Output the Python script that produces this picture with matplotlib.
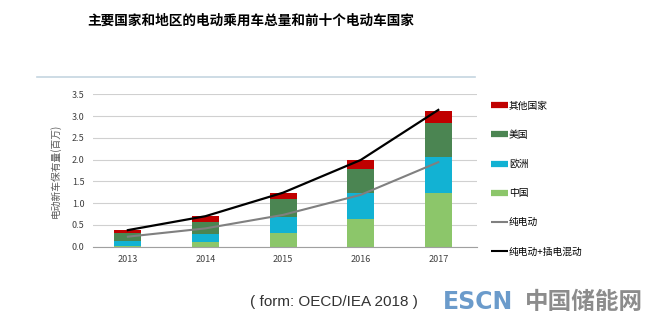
import matplotlib.pyplot as plt
from matplotlib.lines import Line2D
import numpy as np

plt.rcParams['font.family'] = ['Noto Sans CJK SC', 'DejaVu Sans']

years = ["2013", "2014", "2015", "2016", "2017"]
china = [0.02, 0.10, 0.31, 0.64, 1.23]
europe = [0.11, 0.19, 0.36, 0.59, 0.82]
usa = [0.18, 0.28, 0.42, 0.55, 0.78]
others = [0.07, 0.13, 0.15, 0.21, 0.29]
bev = [0.23, 0.42, 0.73, 1.19, 1.94]
bev_phev = [0.38, 0.70, 1.24, 1.99, 3.14]

c_china = "#8cc66a"
c_europe = "#12b2d3"
c_usa = "#4b8552"
c_others = "#c00000"

fig = plt.figure(figsize=(6.5, 3.25), dpi=100)
ax = fig.add_axes([0.143, 0.241, 0.591, 0.469])

x = np.arange(len(years))
w = 0.35
b = np.zeros(len(years))
for vals, col in [(china, c_china), (europe, c_europe), (usa, c_usa), (others, c_others)]:
    ax.bar(x, vals, w, bottom=b, color=col, zorder=2)
    b += np.array(vals)

ax.plot(x, bev, color="#808080", lw=1.5, zorder=3)
ax.plot(x, bev_phev, color="black", lw=1.6, zorder=3)

ax.set_xlim(-0.45, 4.5)
ax.set_ylim(0, 3.5)
ax.set_yticks(np.arange(0, 3.51, 0.5))
ax.set_yticklabels([f"{v:.1f}" for v in np.arange(0, 3.51, 0.5)])
ax.set_xticks(x)
ax.set_xticklabels(years)
ax.tick_params(length=0, labelsize=6.5, colors="#404040", pad=6)
ax.grid(axis="y", color="#d0d0d0", lw=0.8, zorder=0)
for s in ["top", "right", "left"]:
    ax.spines[s].set_visible(False)
ax.spines["bottom"].set_color("#a0a0a0")
ax.set_ylabel("电动新车保有量(百万)", fontsize=7, color="#595959", labelpad=8)

handles = [
    Line2D([], [], color=c_others, lw=4.5, solid_capstyle="butt"),
    Line2D([], [], color=c_usa, lw=4.5, solid_capstyle="butt"),
    Line2D([], [], color=c_europe, lw=4.5, solid_capstyle="butt"),
    Line2D([], [], color=c_china, lw=4.5, solid_capstyle="butt"),
    Line2D([], [], color="#808080", lw=1.5, solid_capstyle="butt"),
    Line2D([], [], color="black", lw=1.5, solid_capstyle="butt"),
]
labels = ["其他国家", "美国", "欧洲", "中国", "纯电动", "纯电动+插电混动"]
fig.legend(handles, labels, loc="upper left", bbox_to_anchor=(0.748, 0.705),
           frameon=False, fontsize=7, handlelength=1.7, handletextpad=0.15,
           labelspacing=1.97, borderpad=0)

fig.text(0.385, 0.937, "主要国家和地区的电动乘用车总量和前十个电动车国家",
         ha="center", va="center", fontsize=9.8, fontweight="bold")
fig.add_artist(Line2D([37 / 650, 475 / 650], [1 - 77 / 325] * 2, color="#c5d5e0", lw=1.2))

fig.text(0.513, 0.071, "( form: OECD/IEA 2018 )", ha="center", va="center",
         fontsize=11, color="#333333", family="Liberation Sans")
fig.text(0.681, 0.071, "ESCN", ha="left", va="center", fontsize=17,
         fontweight="bold", color="#6b9bcb", family="DejaVu Sans")
fig.text(0.808, 0.071, "中国储能网", ha="left", va="center", fontsize=17,
         fontweight="bold", color="#8c8c8c")

fig.savefig("out.png", dpi=100)
